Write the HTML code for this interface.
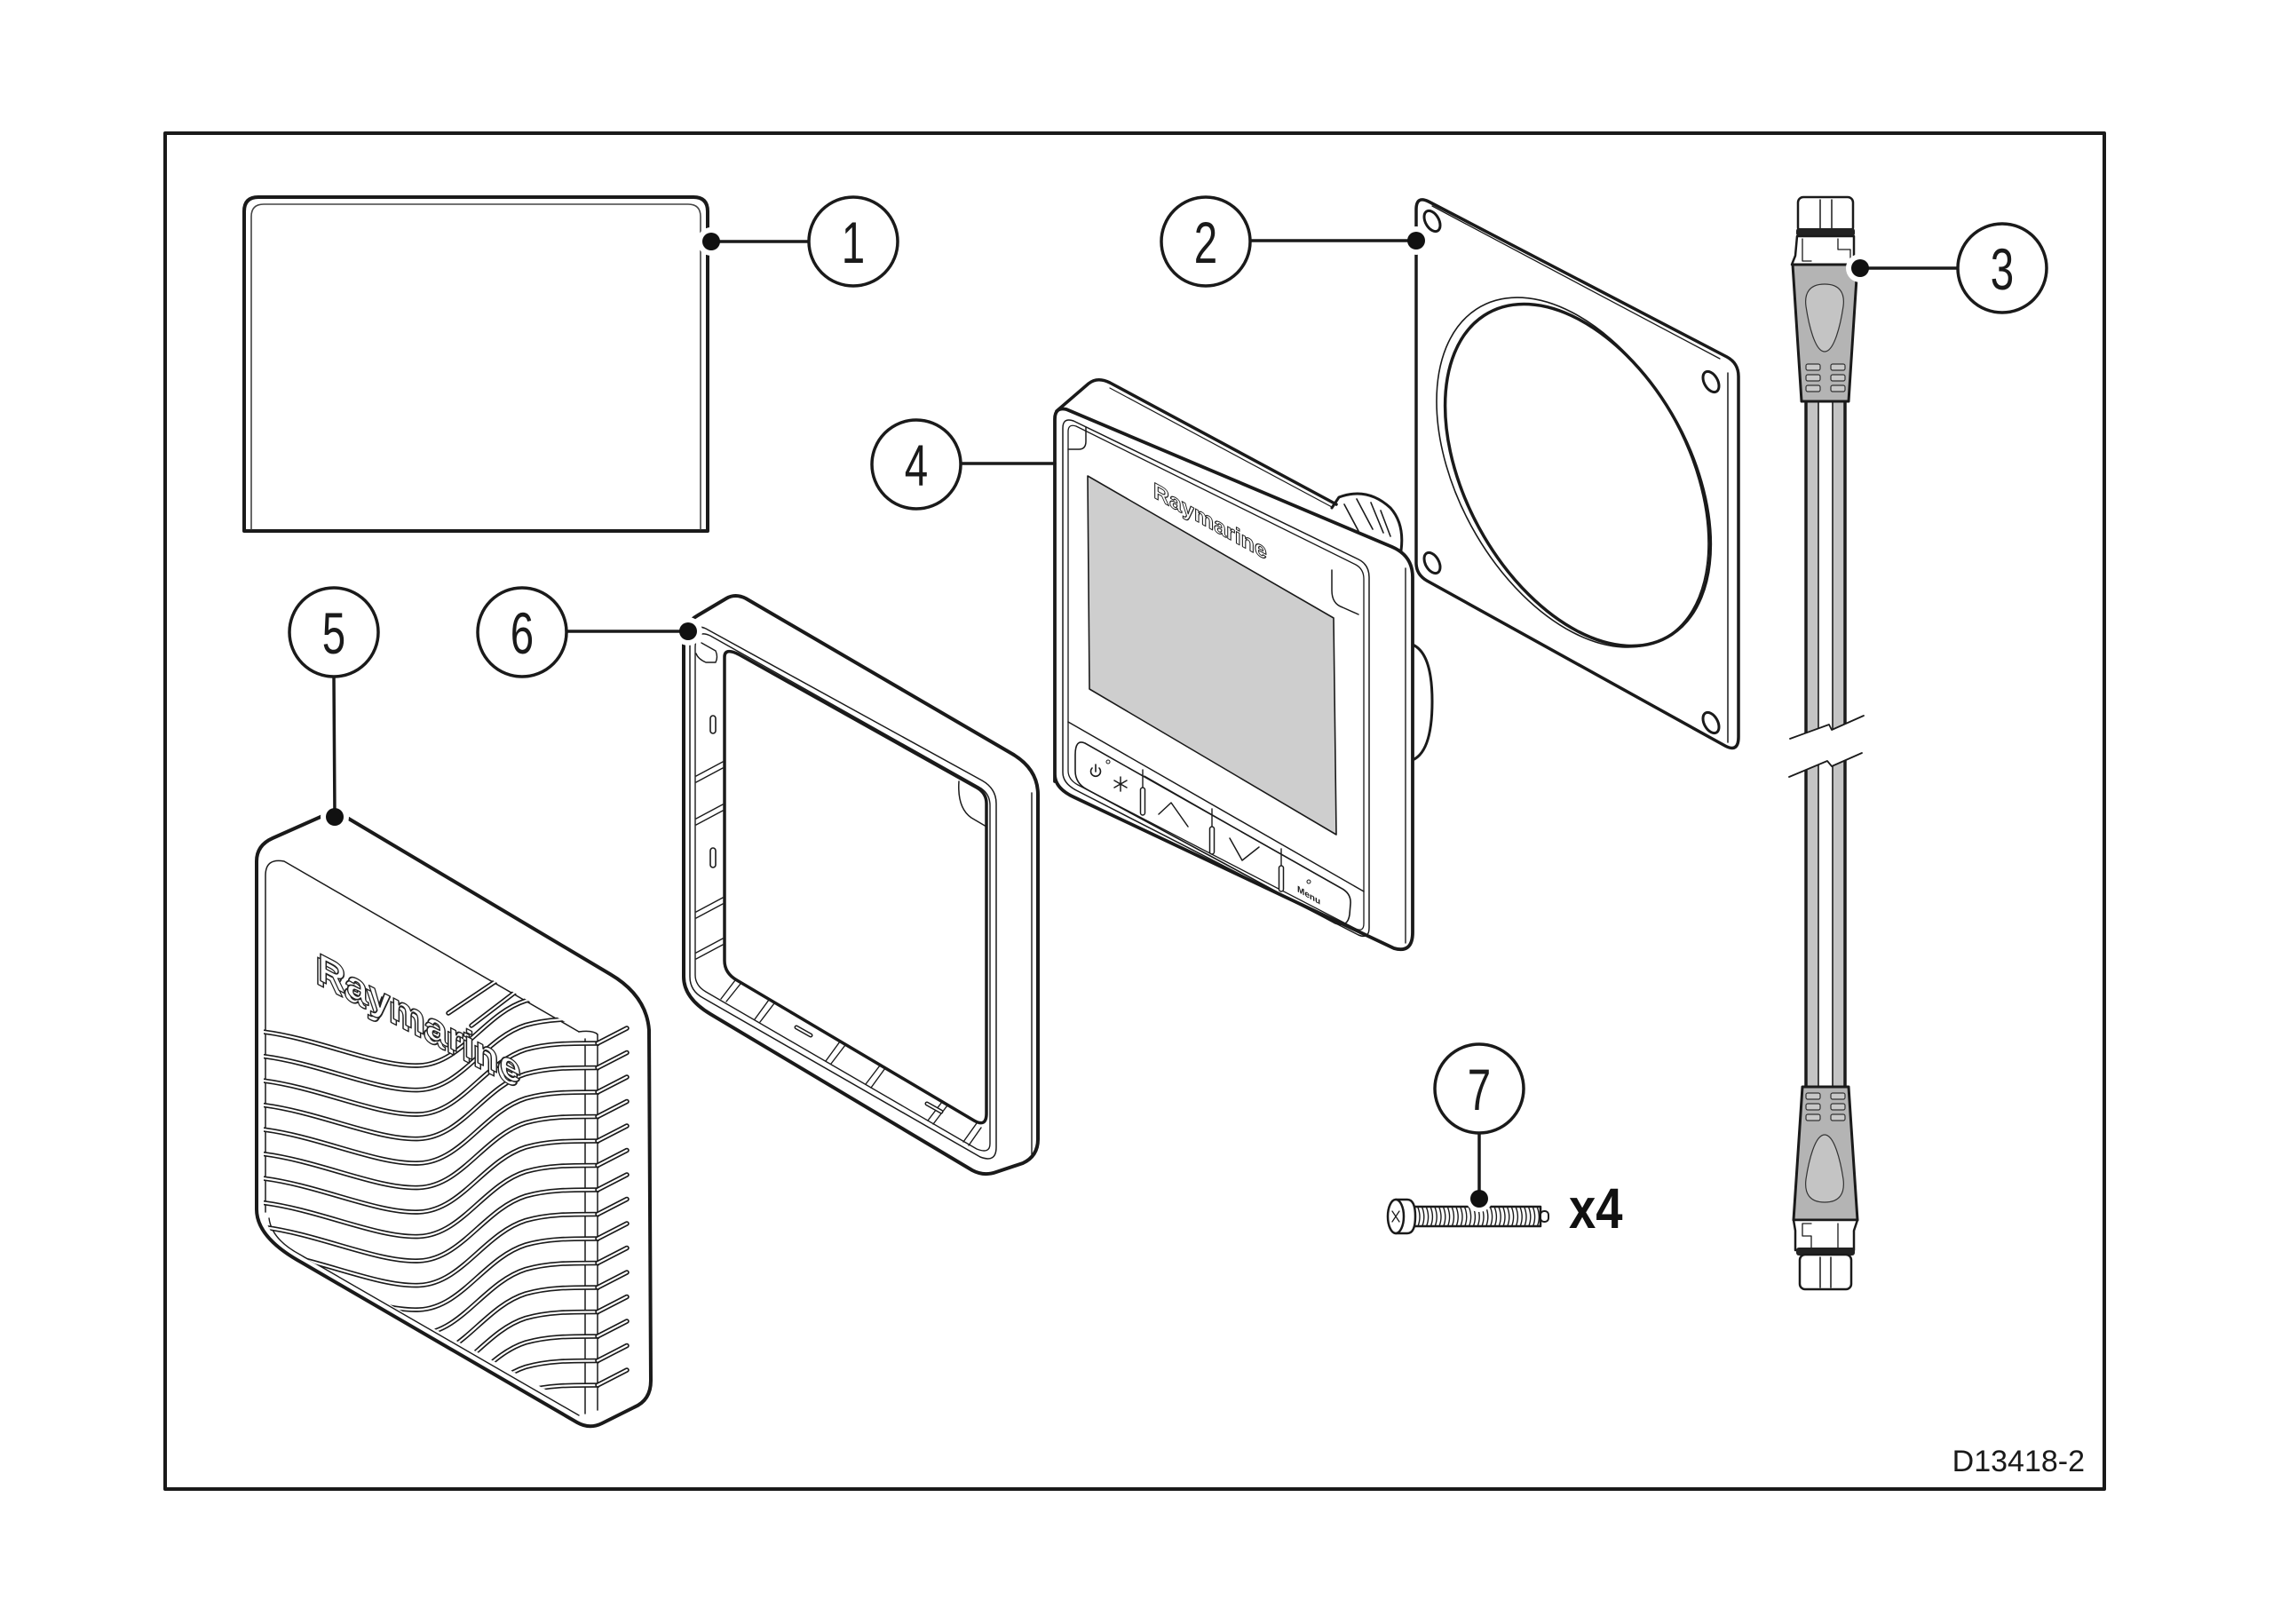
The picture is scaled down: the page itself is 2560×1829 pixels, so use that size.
<!DOCTYPE html>
<html><head><meta charset="utf-8"><style>
html,body{margin:0;padding:0;background:#fff}
svg{display:block}
</style></head><body>
<svg width="2560" height="1829" viewBox="0 0 2560 1829" xmlns="http://www.w3.org/2000/svg" xmlns:xlink="http://www.w3.org/1999/xlink" font-family="'Liberation Sans', Arial, sans-serif">
<defs>
<clipPath id="cabUp"><polygon points="2000,430 2120,430 2120,800 2097,807 2063,822 2060,816 2018,831 2000,837"/></clipPath>
<clipPath id="cabLo"><polygon points="2000,880 2017,874 2058,857 2063,863 2095,849 2120,842 2120,1232 2000,1232"/></clipPath>
<clipPath id="face5"><path d="M297,985 Q297,966 318,968 L675,1173 L675,1598 L338,1414 Q297,1392 297,1360 Z"/></clipPath>
<path id="wv" d="M296,42 C360,50 425,82 472,80 C520,78 545,22 592,7 C617,0 640,0 676,0"/>
<path id="tooth" d="M673,0 L706,-17"/>
</defs>
<rect width="2560" height="1829" fill="#fff"/>
<g fill="none" stroke="#1a1a1a" stroke-linejoin="round" stroke-linecap="round">

<!-- frame -->
<rect x="186" y="150" width="2184" height="1527" stroke-width="4"/>

<!-- ITEM 1 -->
<path d="M275,598 L275,238 Q275,222 291,222 L781,222 Q797,222 797,238 L797,598 Z" stroke-width="4"/>
<path d="M283,596 L283,244 Q283,230 297,230 L775,230 Q789,230 789,244 L789,596" stroke-width="1.6" stroke="#444"/>

<!-- ITEM 2 gasket -->
<path d="M1595,236 Q1595,220 1609,227 L1945,402 Q1958,409 1958,424 L1958,830 Q1958,848 1943,840 L1607,654 Q1595,647 1595,634 Z" stroke-width="3.5"/>
<path d="M1946,420 L1946,836" stroke-width="1.5"/>
<path d="M1613,232 L1937,404" stroke-width="1.3"/>
<g transform="matrix(153,80,0,180,1771,532)"><circle r="1" stroke-width="1.6" vector-effect="non-scaling-stroke"/></g>
<g transform="matrix(149.4,78,0,176,1777,535)"><circle r="1" stroke-width="3.5" vector-effect="non-scaling-stroke"/></g>
<g transform="matrix(9,4.7,0,10.6,1613,249)"><circle r="1" stroke-width="3" vector-effect="non-scaling-stroke"/></g>
<g transform="matrix(9,4.7,0,10.6,1927,430)"><circle r="1" stroke-width="3" vector-effect="non-scaling-stroke"/></g>
<g transform="matrix(9,4.7,0,10.6,1613,634)"><circle r="1" stroke-width="3" vector-effect="non-scaling-stroke"/></g>
<g transform="matrix(9,4.7,0,10.6,1927,814)"><circle r="1" stroke-width="3" vector-effect="non-scaling-stroke"/></g>

<!-- ITEM 3 cable -->
<g clip-path="url(#cabUp)">
  <rect x="2034" y="430" width="14" height="410" fill="#c4c4c4" stroke="none"/>
  <rect x="2064" y="430" width="14" height="410" fill="#c4c4c4" stroke="none"/>
  <path d="M2034,430 L2034,840 M2078,430 L2078,840" stroke-width="3.5"/>
  <path d="M2048,430 L2048,840 M2064,430 L2064,840" stroke-width="1.6"/>
</g>
<g clip-path="url(#cabLo)">
  <rect x="2034" y="840" width="14" height="392" fill="#c4c4c4" stroke="none"/>
  <rect x="2064" y="840" width="14" height="392" fill="#c4c4c4" stroke="none"/>
  <path d="M2034,840 L2034,1232 M2078,840 L2078,1232" stroke-width="3.5"/>
  <path d="M2048,840 L2048,1232 M2064,840 L2064,1232" stroke-width="1.6"/>
</g>
<polyline points="2016,832 2060,816 2063,822 2099,806" stroke-width="1.8"/>
<polyline points="2015,875 2058,857 2063,863 2097,848" stroke-width="1.8"/>

<!-- upper connector -->
<rect x="2025" y="222" width="62" height="40" rx="6" fill="#fff" stroke-width="2.5"/>
<path d="M2050,225 L2050,258 M2063,225 L2063,258" stroke-width="1.5"/>
<rect x="2023" y="257" width="66" height="9" rx="3" fill="#222" stroke="none"/>
<path d="M2024,266 L2088,266 L2088,288 L2092,298 L2018,298 L2022,288 Z" fill="#fff" stroke-width="2.5"/>
<path d="M2030,269 L2030,294 L2040,294 M2070,269 L2070,281 L2084,281 L2084,294" stroke-width="1.3"/>
<path d="M2019,298 L2092,298 L2082,452 L2029,452 Z" fill="#b4b4b4" stroke-width="3"/>
<path d="M2055,320 C2072,320 2078,330 2076,345 C2073,365 2066,396 2055,396 C2044,396 2037,365 2034,345 C2032,330 2038,320 2055,320 Z" fill="#c4c4c4" stroke-width="1.2" stroke="#333"/>
<g fill="#c8c8c8" stroke-width="1.2" stroke="#333">
<rect x="2034" y="410" width="16" height="7" rx="2"/><rect x="2062" y="410" width="16" height="7" rx="2"/>
<rect x="2034" y="422" width="16" height="7" rx="2"/><rect x="2062" y="422" width="16" height="7" rx="2"/>
<rect x="2034" y="434" width="16" height="7" rx="2"/><rect x="2062" y="434" width="16" height="7" rx="2"/>
</g>

<!-- lower connector -->
<path d="M2030,1224 L2082,1224 L2092,1374 L2020,1374 Z" fill="#b4b4b4" stroke-width="3"/>
<g fill="#c8c8c8" stroke-width="1.2" stroke="#333">
<rect x="2034" y="1231" width="16" height="7" rx="2"/><rect x="2062" y="1231" width="16" height="7" rx="2"/>
<rect x="2034" y="1243" width="16" height="7" rx="2"/><rect x="2062" y="1243" width="16" height="7" rx="2"/>
<rect x="2034" y="1255" width="16" height="7" rx="2"/><rect x="2062" y="1255" width="16" height="7" rx="2"/>
</g>
<path d="M2055,1278 C2066,1278 2073,1308 2076,1328 C2078,1344 2072,1354 2055,1354 C2038,1354 2032,1344 2034,1328 C2037,1308 2044,1278 2055,1278 Z" fill="#c4c4c4" stroke-width="1.2" stroke="#333"/>
<path d="M2020,1374 L2092,1374 L2088,1386 L2088,1408 L2022,1408 L2022,1386 Z" fill="#fff" stroke-width="2.5"/>
<path d="M2040,1378 L2030,1378 L2030,1392 L2040,1392 L2040,1405 M2070,1378 L2070,1405" stroke-width="1.3"/>
<rect x="2023" y="1405" width="66" height="9" rx="3" fill="#222" stroke="none"/>
<rect x="2027" y="1413" width="58" height="39" rx="6" fill="#fff" stroke-width="2.5"/>
<path d="M2050,1416 L2050,1450 M2062,1416 L2062,1450" stroke-width="1.5"/>

<!-- ITEM 4 display -->
<path d="M1588,725 Q1613,732 1613,790 Q1613,850 1588,857" fill="#fff" stroke-width="3"/>
<path d="M1500,572 L1508,560 Q1540,548 1566,572 Q1582,590 1578,620" fill="#fff" stroke-width="3"/>
<path d="M1514,568 L1530,598 M1528,562 L1546,596 M1544,566 L1558,600 M1555,575 L1566,604" stroke-width="1.6"/>
<path d="M1190,463 L1226,432 Q1236,424 1250,431 L1505,568" stroke-width="3.5"/>
<path d="M1250,437 L1500,571" stroke-width="1.2"/>
<path d="M1188,880 L1188,472 Q1188,458 1201,461 L1568,616 Q1591,626 1591,650 L1591,1050 Q1591,1074 1570,1068 L1210,898 Q1188,888 1188,872 Z" fill="#fff" stroke-width="3.8"/>
<path d="M1583,640 L1583,1062" stroke-width="1.4"/>
<path d="M1197,482 Q1197,470 1209,474 L1530,630 Q1542,636 1542,650 L1542,1045 Q1542,1058 1530,1053 L1212,890 Q1197,882 1197,870 Z" stroke-width="1.5"/>
<path d="M1203,486 Q1203,477 1212,480 L1527,636 Q1536,641 1536,652 L1536,1040 Q1536,1050 1527,1046 L1214,884 Q1203,878 1203,868 Z" stroke-width="1.3"/>
<path d="M1203,506 L1215,506 Q1223,506 1223,497 L1223,481" stroke-width="1.5"/>
<path d="M1500,642 L1500,665 Q1500,680 1512,684 L1530,692" stroke-width="1.5"/>
<polygon points="1225,536 1502,696 1505,940 1227,776" fill="#cecece" stroke-width="1.6"/>
<path d="M1203,813 L1536,1004" stroke-width="1.5"/>
<path d="M1222,837 L1510,1000 Q1522,1006 1521,1018 L1520,1030 Q1518,1045 1504,1040 L1224,889 Q1211,882 1211,868 L1211,850 Q1211,832 1222,837 Z" stroke-width="1.6"/>
<path d="M1289,874 L1441,961" stroke-width="1.2"/>
<path d="M1287,867 L1287,888 M1365,911 L1365,932 M1443,956 L1443,976" stroke-width="1.4"/>
<g fill="#fff" stroke-width="1.5">
<rect x="1284.5" y="887" width="5" height="31" rx="2.5"/>
<rect x="1362.5" y="931" width="5" height="31" rx="2.5"/>
<rect x="1440.5" y="975" width="5" height="29" rx="2.5"/>
</g>
<path d="M1230,865 A5.5,5.5 0 1 0 1238,865 M1234,861 L1234,869" stroke-width="1.6"/>
<path d="M1262,875 L1262,891 M1255,879 L1269,887 M1255,887 L1269,879" stroke-width="1.5"/>
<circle cx="1248" cy="858" r="2" stroke-width="1"/>
<polyline points="1305,917 1319,904 1338,931" stroke-width="1.5"/>
<polyline points="1385,944 1399,969 1418,954" stroke-width="1.5"/>
<circle cx="1474" cy="993" r="2" stroke-width="1"/>
<text transform="translate(1461,1004) skewY(30)" font-size="10" font-weight="bold" fill="#1a1a1a" stroke="none">Menu</text>
<text transform="translate(1299,560) skewY(29)" font-size="25" font-weight="bold" fill="#fff" stroke="#222" stroke-width="1.1">Raymarine</text>

<!-- ITEM 6 bezel -->
<path d="M770,1100 L770,722 Q770,702 786,693 L818,674 Q828,668 840,674 L1140,849 Q1169,866 1169,895 L1169,1283 Q1169,1302 1152,1310 L1122,1320 Q1108,1325 1095,1318 L800,1142 Q770,1124 770,1100 Z" stroke-width="4"/>
<path d="M1162,893 L1162,1300" stroke-width="1.4"/>
<path d="M777,725 L777,1100 Q777,1116 792,1124 L1104,1303 Q1122,1310 1122,1292 L1122,905 Q1122,888 1106,879 L795,708 Q777,700 777,725 Z" stroke-width="1.5"/>
<path d="M783,730 L783,1098 Q783,1110 795,1117 L1100,1294 Q1115,1300 1115,1288 L1115,907 Q1115,893 1102,886 L800,716 Q783,708 783,730 Z" stroke-width="1.4"/>
<path d="M816,740 L816,1082 Q816,1096 830,1104 L1097,1262 Q1111,1270 1111,1254 L1111,905 Q1111,893 1100,887 L832,737 Q816,729 816,740 Z" stroke-width="3.5"/>
<path d="M1080,880 Q1078,910 1094,921 L1111,931" stroke-width="1.5"/>
<path d="M790,724 L806,733 Q809,740 806,746 L795,746 Q786,742 784,736" stroke-width="1.4"/>
<path d="M784,874 L814,858 M784,881 L814,865 M784,922 L814,906 M784,929 L814,913 M784,1027 L814,1011 M784,1034 L814,1018 M784,1073 L814,1057 M784,1080 L814,1064" stroke-width="1.4"/>
<rect x="800" y="806" width="6" height="20" rx="3" stroke-width="1.6"/>
<rect x="800" y="955" width="6" height="22" rx="3" stroke-width="1.6"/>
<path d="M812,1125 L828,1104 M818,1128 L834,1108 M850,1148 L866,1126 M856,1151 L872,1130 M930,1195 L946,1173 M936,1198 L952,1177 M975,1221 L991,1200 M981,1225 L997,1203 M1045,1262 L1061,1241 M1051,1266 L1067,1245 M1085,1286 L1100,1265 M1091,1290 L1105,1270" stroke-width="1.4"/>
<path d="M897,1157 L913,1166" stroke-width="5"/><path d="M897,1157 L913,1166" stroke-width="2" stroke="#fff"/>
<path d="M1044,1243 L1060,1252" stroke-width="5"/><path d="M1044,1243 L1060,1252" stroke-width="2" stroke="#fff"/>

<!-- ITEM 5 sun cover -->
<path d="M289,1362 L289,970 Q289,952 307,944 L370,916 Q378,913 386,918 L687,1097 Q728,1121 731,1160 L733,1555 Q733,1577 714,1585 L678,1603 Q664,1610 650,1602 L340,1422 Q289,1394 289,1362 Z" stroke-width="4"/>
<path d="M299,1365 L299,986 Q299,966 320,970 L652,1162" stroke-width="1.5"/>
<path d="M659,1170 L659,1592 M673,1165 L673,1588" stroke-width="1.5"/>
<path d="M652,1162 Q668,1160 673,1165" stroke-width="1.5"/>
<path d="M303,1372 Q306,1396 338,1413 L652,1594" stroke-width="1.4"/>
<g clip-path="url(#face5)">
  <g stroke-width="5.5">
    <use xlink:href="#wv" y="1120"/><use xlink:href="#wv" y="1147.5"/><use xlink:href="#wv" y="1175"/><use xlink:href="#wv" y="1202.5"/>
    <use xlink:href="#wv" y="1230"/><use xlink:href="#wv" y="1257.5"/><use xlink:href="#wv" y="1285"/><use xlink:href="#wv" y="1312.5"/>
    <use xlink:href="#wv" y="1340"/><use xlink:href="#wv" y="1367.5"/><use xlink:href="#wv" y="1395"/><use xlink:href="#wv" y="1422.5"/>
    <use xlink:href="#wv" y="1450"/><use xlink:href="#wv" y="1477.5"/><use xlink:href="#wv" y="1505"/><use xlink:href="#wv" y="1532.5"/>
    <use xlink:href="#wv" y="1560"/>
    <path d="M505,1141 L563,1102 M531,1155 L586,1113"/>
  </g>
  <g stroke-width="2.2" stroke="#fff">
    <use xlink:href="#wv" y="1120"/><use xlink:href="#wv" y="1147.5"/><use xlink:href="#wv" y="1175"/><use xlink:href="#wv" y="1202.5"/>
    <use xlink:href="#wv" y="1230"/><use xlink:href="#wv" y="1257.5"/><use xlink:href="#wv" y="1285"/><use xlink:href="#wv" y="1312.5"/>
    <use xlink:href="#wv" y="1340"/><use xlink:href="#wv" y="1367.5"/><use xlink:href="#wv" y="1395"/><use xlink:href="#wv" y="1422.5"/>
    <use xlink:href="#wv" y="1450"/><use xlink:href="#wv" y="1477.5"/><use xlink:href="#wv" y="1505"/><use xlink:href="#wv" y="1532.5"/>
    <use xlink:href="#wv" y="1560"/>
    <path d="M505,1141 L563,1102 M531,1155 L586,1113"/>
  </g>
</g>
<g stroke-width="5.5">
  <use xlink:href="#tooth" y="1175"/><use xlink:href="#tooth" y="1202.5"/><use xlink:href="#tooth" y="1230"/><use xlink:href="#tooth" y="1257.5"/>
  <use xlink:href="#tooth" y="1285"/><use xlink:href="#tooth" y="1312.5"/><use xlink:href="#tooth" y="1340"/><use xlink:href="#tooth" y="1367.5"/>
  <use xlink:href="#tooth" y="1395"/><use xlink:href="#tooth" y="1422.5"/><use xlink:href="#tooth" y="1450"/><use xlink:href="#tooth" y="1477.5"/>
  <use xlink:href="#tooth" y="1505"/><use xlink:href="#tooth" y="1532.5"/><use xlink:href="#tooth" y="1560"/>
</g>
<g stroke-width="2.2" stroke="#fff">
  <use xlink:href="#tooth" y="1175"/><use xlink:href="#tooth" y="1202.5"/><use xlink:href="#tooth" y="1230"/><use xlink:href="#tooth" y="1257.5"/>
  <use xlink:href="#tooth" y="1285"/><use xlink:href="#tooth" y="1312.5"/><use xlink:href="#tooth" y="1340"/><use xlink:href="#tooth" y="1367.5"/>
  <use xlink:href="#tooth" y="1395"/><use xlink:href="#tooth" y="1422.5"/><use xlink:href="#tooth" y="1450"/><use xlink:href="#tooth" y="1477.5"/>
  <use xlink:href="#tooth" y="1505"/><use xlink:href="#tooth" y="1532.5"/><use xlink:href="#tooth" y="1560"/>
</g>
<text transform="translate(355,1107) skewY(27.5)" font-size="44" font-weight="bold" letter-spacing="0.5" fill="#fff" stroke="#222" stroke-width="1.5">Raymarine</text>
<text transform="translate(358,1103) skewY(27.5)" font-size="44" font-weight="bold" letter-spacing="0.5" fill="#fff" stroke="#222" stroke-width="1.5">Raymarine</text>

<!-- ITEM 7 screw -->
<rect x="1592" y="1359" width="143" height="22" fill="#fff" stroke-width="2.5"/>
<path d="M1597,1360 q4,10.5 0,21 m4.8,-21 q4,10.5 0,21 m4.8,-21 q4,10.5 0,21 m4.8,-21 q4,10.5 0,21 m4.8,-21 q4,10.5 0,21 m4.8,-21 q4,10.5 0,21 m4.8,-21 q4,10.5 0,21 m4.8,-21 q4,10.5 0,21 m4.8,-21 q4,10.5 0,21 m4.8,-21 q4,10.5 0,21 m4.8,-21 q4,10.5 0,21 m4.8,-21 q4,10.5 0,21 m4.8,-21 q4,10.5 0,21 m4.8,-21 q4,10.5 0,21 m4.8,-21 q4,10.5 0,21 m4.8,-21 q4,10.5 0,21 m4.8,-21 q4,10.5 0,21 m4.8,-21 q4,10.5 0,21 m4.8,-21 q4,10.5 0,21 m4.8,-21 q4,10.5 0,21 m4.8,-21 q4,10.5 0,21 m4.8,-21 q4,10.5 0,21 m4.8,-21 q4,10.5 0,21 m4.8,-21 q4,10.5 0,21 m4.8,-21 q4,10.5 0,21 m4.8,-21 q4,10.5 0,21 m4.8,-21 q4,10.5 0,21 m4.8,-21 q4,10.5 0,21 m4.8,-21 q4,10.5 0,21" stroke-width="1.4"/>
<rect x="1735" y="1364" width="9" height="12" rx="4" fill="#fff" stroke-width="2"/>
<path d="M1572,1351 L1585,1351 Q1594,1351 1594,1370 Q1594,1389 1585,1389 L1572,1389" fill="#fff" stroke-width="2.5"/>
<ellipse cx="1572" cy="1370" rx="9" ry="19" fill="#fff" stroke-width="2.5"/>
<path d="M1568,1364 L1576,1376 M1576,1364 L1568,1376" stroke-width="1.3"/>

<!-- callout halos -->
<g fill="#fff" stroke="none">
<circle cx="801" cy="272" r="16"/><circle cx="1595" cy="271" r="16"/><circle cx="2095" cy="302" r="16"/>
<circle cx="377" cy="920" r="16"/><circle cx="775" cy="711" r="16"/><circle cx="1666" cy="1350" r="15"/>
</g>
<!-- leaders -->
<g stroke-width="3.5">
<path d="M801,272 L911,272"/>
<path d="M1408,271 L1595,271"/>
<path d="M2095,302 L2205,302"/>
<path d="M1082,522 L1188,522"/>
<path d="M376,762 L377,920"/>
<path d="M638,711 L775,711"/>
<path d="M1666,1276 L1666,1350"/>
</g>
<g fill="#111" stroke="none">
<circle cx="801" cy="272" r="10"/><circle cx="1595" cy="271" r="10"/><circle cx="2095" cy="302" r="10"/>
<circle cx="377" cy="920" r="10"/><circle cx="775" cy="711" r="10"/><circle cx="1666" cy="1350" r="10"/>
</g>
<!-- callout circles -->
<g fill="#fff" stroke-width="3.5">
<circle cx="961" cy="272" r="50"/>
<circle cx="1358" cy="272" r="50"/>
<circle cx="2255" cy="302" r="50"/>
<circle cx="1032" cy="523" r="50"/>
<circle cx="376" cy="712" r="50"/>
<circle cx="588" cy="712" r="50"/>
<circle cx="1666" cy="1226" r="50"/>
</g>
</g>
<g fill="#1a1a1a" font-size="66" text-anchor="middle">
<text transform="translate(961,296) scale(0.72,1)">1</text>
<text transform="translate(1358,296) scale(0.72,1)">2</text>
<text transform="translate(2255,326) scale(0.72,1)">3</text>
<text transform="translate(1032,547) scale(0.72,1)">4</text>
<text transform="translate(376,736) scale(0.72,1)">5</text>
<text transform="translate(588,736) scale(0.72,1)">6</text>
<text transform="translate(1666,1250) scale(0.72,1)">7</text>
</g>
<text transform="translate(1767,1383) scale(0.85,1)" font-size="64" font-weight="bold" fill="#111">x4</text>
<text x="2348" y="1657" font-size="34" text-anchor="end" fill="#1a1a1a">D13418-2</text>
</svg>
</body></html>
